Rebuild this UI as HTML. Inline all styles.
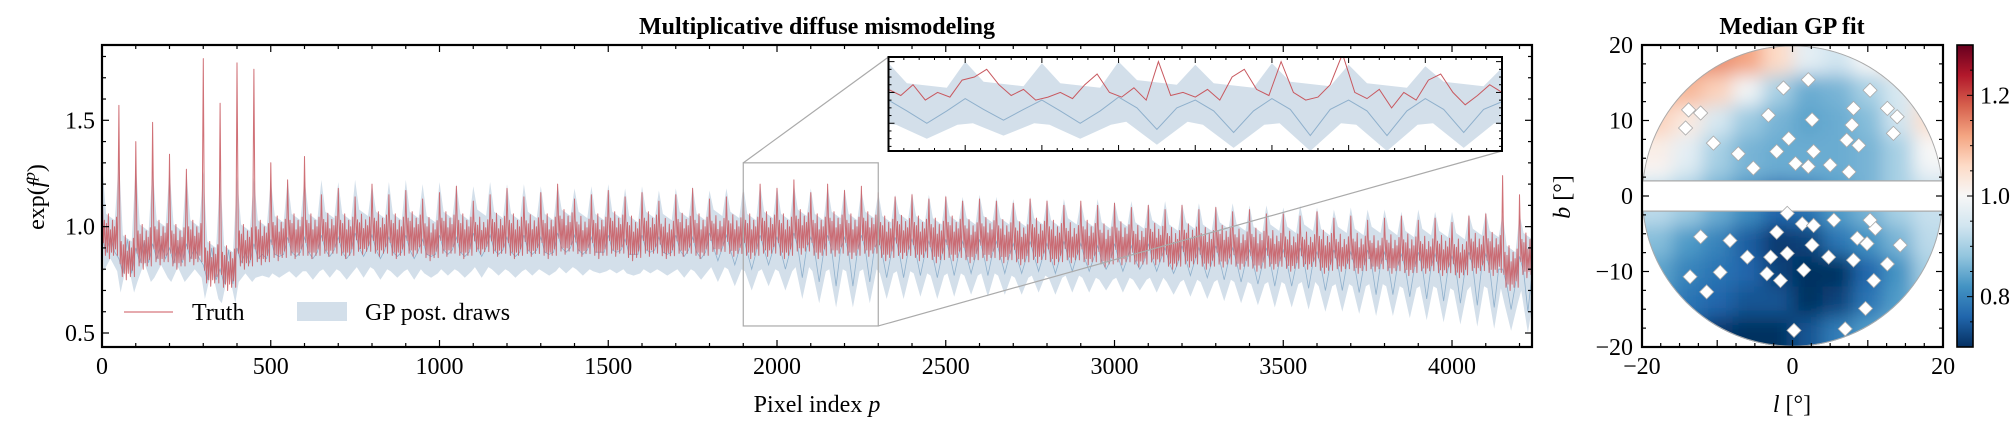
<!DOCTYPE html>
<html><head><meta charset="utf-8">
<style>
html,body{margin:0;padding:0;background:#fff;}
svg{display:block;font-family:"Liberation Serif","DejaVu Serif",serif;}
</style></head>
<body>
<svg id="fig" width="2016" height="424" viewBox="0 0 2016 424" xmlns="http://www.w3.org/2000/svg">
<defs>
  <clipPath id="mainClip"><rect x="102" y="45" width="1430" height="302"/></clipPath>
  <clipPath id="insetClip"><rect x="888.5" y="57" width="613.5" height="94"/></clipPath>
  <clipPath id="circClip"><circle cx="1792.5" cy="196" r="150.6"/></clipPath>
  <clipPath id="bandClip"><rect x="1640" y="40" width="310" height="141"/><rect x="1640" y="211" width="310" height="140"/></clipPath>
  <filter id="blur" x="-20%" y="-20%" width="140%" height="140%"><feGaussianBlur stdDeviation="9"/></filter>
  <linearGradient id="cbar" x1="0" y1="1" x2="0" y2="0">
    <stop offset="0" stop-color="#053061"/><stop offset="0.1" stop-color="#2166ac"/>
    <stop offset="0.2" stop-color="#4393c3"/><stop offset="0.3" stop-color="#92c5de"/>
    <stop offset="0.4" stop-color="#d1e5f0"/><stop offset="0.5" stop-color="#f7f7f7"/>
    <stop offset="0.6" stop-color="#fddbc7"/><stop offset="0.7" stop-color="#f4a582"/>
    <stop offset="0.8" stop-color="#d6604d"/><stop offset="0.9" stop-color="#b2182b"/>
    <stop offset="1" stop-color="#67001f"/>
  </linearGradient>
</defs>
<text x="817" y="34" font-size="24" font-weight="bold" text-anchor="middle">Multiplicative diffuse mismodeling</text>
<text x="1792" y="34" font-size="24" font-weight="bold" text-anchor="middle">Median GP fit</text>
<text x="817" y="412" font-size="24" text-anchor="middle">Pixel index <tspan font-style="italic">p</tspan></text>
<text transform="translate(44,197) rotate(-90)" font-size="24" text-anchor="middle">exp(<tspan font-style="italic">f</tspan><tspan font-style="italic" font-size="17" dy="-9">p</tspan><tspan dy="9">)</tspan></text>
<text x="1792" y="412" font-size="24" text-anchor="middle"><tspan font-style="italic">l</tspan> [°]</text>
<text transform="translate(1570,197) rotate(-90)" font-size="24" text-anchor="middle"><tspan font-style="italic">b</tspan> [°]</text>
<g id="main"></g>
<g id="map"></g>
</svg>
<script>
// ---- main series data (one value per 50-pixel period, p = 0,50,...,4200) ----
const truthPeak = [1.2,1.57,1.4,1.49,1.34,1.27,1.79,1.58,1.77,1.74,1.3,1.22,1.33,
 1.15,1.18,1.14,1.2,1.15,1.17,1.13,1.16,1.19,1.12,1.15,1.18,1.14,1.16,1.2,1.13,1.15,1.17,1.14,1.16,1.12,1.15,1.18,1.13,1.14,1.16,
 1.2,1.18,1.22,1.16,1.2,1.17,1.19,
 1.16,1.14,1.15,1.13,1.14,1.12,1.13,1.12,1.11,1.13,1.12,1.1,1.12,1.1,1.11,1.09,1.1,1.08,1.1,1.08,1.09,1.07,1.08,1.06,
 1.06,1.05,1.07,1.04,1.05,1.03,1.04,1.05,1.03,1.04,1.02,1.05,1.06,1.24,1.15];
const truthTrough = [0.85,0.75,0.8,0.82,0.8,0.82,0.72,0.7,0.8,0.82,0.84,0.85,0.85,
 0.86,0.85,0.87,0.86,0.85,0.86,0.84,0.86,0.85,0.87,0.86,0.85,0.86,0.85,0.87,0.86,0.85,0.86,0.84,0.86,0.85,0.86,0.85,0.87,0.86,0.85,
 0.86,0.85,0.87,0.85,0.86,0.85,0.86,
 0.84,0.85,0.84,0.83,0.84,0.83,0.84,0.83,0.82,0.83,0.82,0.83,0.82,0.81,0.82,0.81,0.82,0.8,0.81,0.8,0.81,0.8,0.79,0.8,
 0.79,0.8,0.78,0.79,0.78,0.79,0.78,0.77,0.78,0.77,0.76,0.78,0.77,0.7,0.76];
const bandTop = [1.3,1.32,1.3,1.28,1.27,1.26,1.26,1.25,1.24,1.23,1.22,1.22,1.23,
 1.22,1.21,1.22,1.2,1.21,1.22,1.2,1.21,1.2,1.19,1.21,1.2,1.2,1.19,1.2,1.18,1.19,1.2,1.18,1.19,1.17,1.18,1.19,1.17,1.18,1.19,
 1.2,1.19,1.2,1.18,1.19,1.18,1.17,
 1.16,1.15,1.16,1.15,1.15,1.14,1.15,1.14,1.13,1.14,1.13,1.13,1.12,1.13,1.12,1.12,1.11,1.12,1.11,1.11,1.1,1.11,1.1,1.1,
 1.09,1.1,1.09,1.08,1.09,1.08,1.08,1.07,1.08,1.07,1.07,1.06,1.07,1.06,1.06];
const bandBottom = [0.85,0.84,0.83,0.82,0.81,0.8,0.8,0.79,0.78,0.77,0.76,0.76,0.75,
 0.76,0.75,0.76,0.75,0.76,0.75,0.76,0.77,0.76,0.76,0.77,0.76,0.77,0.77,0.78,0.77,0.78,0.78,0.77,0.78,0.77,0.76,0.75,0.74,0.72,0.7,
 0.72,0.7,0.66,0.64,0.62,0.62,0.64,
 0.66,0.66,0.67,0.66,0.67,0.68,0.67,0.68,0.68,0.69,0.68,0.69,0.69,0.7,0.69,0.7,0.69,0.68,0.67,0.66,0.65,0.64,0.63,0.62,
 0.62,0.61,0.6,0.6,0.59,0.58,0.58,0.57,0.56,0.55,0.54,0.53,0.52,0.51,0.5];
// ---- inset truth (p = 1900..2300 step 8) ----
const insetTruth = [1.02,0.98,1.05,0.95,1.0,0.97,1.08,1.1,1.15,1.05,
 0.98,1.02,0.95,0.97,1.0,0.96,1.05,1.12,1.0,0.97,
 1.03,0.95,1.2,0.98,1.0,0.97,1.02,0.95,1.1,1.15,
 1.02,0.98,1.2,1.0,0.95,0.97,1.05,1.25,1.0,0.96,
 1.02,0.9,1.0,0.95,1.08,1.12,1.0,0.92,0.98,1.05,1.0];
const xTicks = [0,500,1000,1500,2000,2500,3000,3500,4000];
const yTicks = [0.5,1.0,1.5];
const yTickLabels = ["0.5","1.0","1.5"];
// ---- map data: 4° cells, rows b=18..-18, cols l=-18..18 ----
const mapVals = [
 [1.14,1.14,1.14,1.12,1.06,0.97,0.94,1.0,1.04,1.03],
 [1.1,1.1,1.07,0.99,0.9,0.85,0.86,0.9,0.95,1.03],
 [1.07,1.03,0.95,0.89,0.86,0.84,0.85,0.87,0.94,1.05],
 [1.02,0.97,0.9,0.86,0.85,0.85,0.85,0.86,0.9,1.0],
 [1.0,0.95,0.89,0.86,0.85,0.85,0.85,0.86,0.9,0.98],
 [0.92,0.89,0.85,0.81,0.76,0.78,0.83,0.86,0.9,0.93],
 [0.87,0.83,0.8,0.75,0.71,0.72,0.78,0.82,0.86,0.92],
 [0.84,0.8,0.78,0.76,0.72,0.7,0.7,0.76,0.82,0.9],
 [0.83,0.78,0.76,0.74,0.74,0.7,0.72,0.78,0.83,0.88],
 [0.79,0.75,0.71,0.7,0.7,0.74,0.79,0.83,0.86,0.88]];
const maskL = [2.1,-1.2,-3.2,2.6,8.1,12.6,13.9,7.9,-0.5,13.4,-13.8,-12.2,-14.2,-10.5,-7.2,-2.1,2.8,5.0,7.2,8.8,10.3,7.5,2.1,-5.2,0.4,
 -12.2,-8.3,-11.4,-9.6,-13.6,-6.0,-2.9,-0.7,1.5,2.6,4.8,8.1,8.6,11.0,9.9,12.6,14.3,10.8,9.7,0.2,7.0,1.3,2.8,5.5,-0.7,-2.1,10.3,-3.4,-1.6];
const maskB = [15.4,14.3,10.7,10.1,11.6,11.6,10.5,9.4,7.6,8.3,11.4,11.0,9.0,7.0,5.6,5.9,5.9,4.1,7.4,6.7,14.0,3.2,3.9,3.7,4.3,
 -5.4,-5.9,-12.7,-10.1,-10.7,-8.1,-8.1,-7.6,-9.8,-6.5,-8.1,-8.5,-5.6,-4.3,-6.3,-9.0,-6.5,-11.2,-14.9,-17.8,-17.6,-3.7,-3.9,-3.2,-2.3,-4.8,-3.2,-10.3,-11.2];
const cbTicks = [0.8,1.0,1.2];

const NS = "http://www.w3.org/2000/svg";
function mk(tag, attrs, parent){const e=document.createElementNS(NS,tag);for(const k in attrs)e.setAttribute(k,attrs[k]);parent.appendChild(e);return e;}

const main = document.getElementById('main');
const X = p => 102 + p*(1430/4237);
const Y = v => 333 - (v-0.5)*212.7;
const IX = p => 888.5 + (p-1900)*(613.5/400);
const IY = v => 151 - (v-0.62)*(94/0.61);

function bandPath(xs, ys, i0, i1){
  let top=[], bot=[];
  for(let i=i0;i<=i1;i++){
    const p=i*50;
    top.push([xs(p), ys(bandTop[i])], [xs(p+12), ys(truthTrough[i]+0.21)], [xs(p+38), ys(truthTrough[i]+0.18)]);
    bot.push([xs(p+5), ys(truthTrough[i]-0.06)], [xs(p+25), ys(bandBottom[i])], [xs(p+45), ys(truthTrough[i]-0.06)]);
  }
  bot.reverse();
  return 'M'+top.concat(bot).map(q=>q[0].toFixed(1)+','+q[1].toFixed(1)).join('L')+'Z';
}
function medianPath(xs, ys, i0, i1){
  let pts=[];
  for(let i=i0;i<=i1;i++){
    const p=i*50;
    pts.push([xs(p), ys(truthTrough[i]+0.1)], [xs(p+12), ys(truthTrough[i]+0.03)], [xs(p+25), ys(bandBottom[i]+0.1)], [xs(p+38), ys(truthTrough[i]+0.03)]);
  }
  return 'M'+pts.map(q=>q[0].toFixed(1)+','+q[1].toFixed(1)).join('L');
}
// style: relative position of sub-vertices inside one period
const wig = [[0,1],[4,0.25],[7,0.6],[10,0.05],[13,0.55],[16,0.1],[19,0.7],[22,0],[25,0.45],[28,0.1],[31,0.6],[34,0.05],[37,0.5],[40,0.15],[43,0.65],[46,0.05]];
function truthPath(xs, ys){
  let pts=[];
  for(let i=0;i<truthPeak.length;i++){
    const p=i*50, pk=truthPeak[i], tr=truthTrough[i], hi=Math.min(pk,tr+0.3);
    wig.forEach((w,k)=>{
      const v = k===0 ? pk : tr + (hi-tr)*w[1];
      pts.push([xs(p+w[0]), ys(v)]);
    });
  }
  return 'M'+pts.map(q=>q[0].toFixed(1)+','+q[1].toFixed(1)).join('L');
}

// main plot marks
const mg = mk('g',{'clip-path':'url(#mainClip)'},main);
const band = mk('path',{d:bandPath(X,Y,0,truthPeak.length-1),fill:'#d3dfea',stroke:'none'},mg);


const med = mk('path',{d:medianPath(X,Y,0,truthPeak.length-1),fill:'none',stroke:'#8fb0cc','stroke-width':0.8},mg);


const tr = mk('path',{d:truthPath(X,Y),fill:'none',stroke:'#c8585f','stroke-width':1.0,'stroke-linejoin':'round','stroke-opacity':0.85},mg);



// zoom rectangle + connectors
const zr = mk('rect',{x:X(1900),y:Y(1.3),width:X(2300)-X(1900),height:Y(0.533)-Y(1.3),fill:'none',stroke:'#aaa','stroke-width':1.2},main);


const c1 = mk('line',{x1:X(1900),y1:Y(1.3),x2:888.5,y2:57,stroke:'#aaa','stroke-width':1.2},main);


const c2 = mk('line',{x1:X(2300),y1:Y(0.533),x2:1502,y2:151,stroke:'#aaa','stroke-width':1.2},main);



// inset
const ins = mk('g',{},main);


mk('rect',{x:888.5,y:57,width:613.5,height:94,fill:'#fff'},ins);
const ig = mk('g',{'clip-path':'url(#insetClip)'},ins);
const ib = mk('path',{d:bandPath(IX,IY,37,47),fill:'#d3dfea'},ig);


const im = mk('path',{d:medianPath(IX,IY,37,47),fill:'none',stroke:'#8fb0cc','stroke-width':1},ig);


const it = mk('path',{d:'M'+insetTruth.map((v,k)=>IX(1900+k*8).toFixed(1)+','+IY(v).toFixed(1)).join('L'),fill:'none',stroke:'#c8585f','stroke-width':1},ig);


for(let p=1900;p<=2300;p+=10){
  const L = (p%50===0)?6:3;
  mk('line',{x1:IX(p),y1:151,x2:IX(p),y2:151-L,stroke:'#000','stroke-width':1},ins);
  mk('line',{x1:IX(p),y1:57,x2:IX(p),y2:57+L,stroke:'#000','stroke-width':1},ins);
}
for(let v=0.65;v<=1.2301;v+=0.05){
  const L = (Math.abs(v*10-Math.round(v*10))<0.01 && Math.round(v*10)%2===0)?6:3;
  mk('line',{x1:888.5,y1:IY(v),x2:888.5+L,y2:IY(v),stroke:'#000','stroke-width':1},ins);
  mk('line',{x1:1502,y1:IY(v),x2:1502-L,y2:IY(v),stroke:'#000','stroke-width':1},ins);
}
const ifr = mk('rect',{x:888.5,y:57,width:613.5,height:94,fill:'none',stroke:'#000','stroke-width':2},ins);



// main axes ticks
for(let p=0;p<=4237;p+=100){
  const L=(p%500===0)?7:4;
  mk('line',{x1:X(p),y1:347,x2:X(p),y2:347-L,stroke:'#000','stroke-width':1.2},main);
  mk('line',{x1:X(p),y1:45,x2:X(p),y2:45+L,stroke:'#000','stroke-width':1.2},main);
}
xTicks.forEach(p=>{
  const t=mk('text',{x:X(p),y:374,'font-size':24,'text-anchor':'middle'},main);
  t.textContent=p;
  
  
});
for(let k=5;k<=18;k++){
  const v=k/10, L=(k%5===0)?7:4;
  mk('line',{x1:102,y1:Y(v),x2:102+L,y2:Y(v),stroke:'#000','stroke-width':1.2},main);
  mk('line',{x1:1532,y1:Y(v),x2:1532-L,y2:Y(v),stroke:'#000','stroke-width':1.2},main);
}
yTicks.forEach((v,k)=>{
  const t=mk('text',{x:95,y:Y(v)+8,'font-size':24,'text-anchor':'end'},main);
  t.textContent=yTickLabels[k];
  
  
});
const fr = mk('rect',{x:102,y:45,width:1430,height:302,fill:'none',stroke:'#000','stroke-width':2.2},main);



// legend
const lg = mk('g',{},main);


const le1 = mk('line',{x1:124,y1:312,x2:173,y2:312,stroke:'#d6787d','stroke-width':1.2},lg);


const lt1 = mk('text',{x:192,y:320,'font-size':24},lg); lt1.textContent='Truth';


const le2 = mk('rect',{x:297,y:302,width:50,height:19,fill:'#d3dfea'},lg);


const lt2 = mk('text',{x:365,y:320,'font-size':24},lg); lt2.textContent='GP post. draws';



// ---- map ----
const map = document.getElementById('map');
const ML = l => 1792.5 + l*7.53;
const MB = b => 196 - b*7.55;
const stops=[[0,[5,48,97]],[0.1,[33,102,172]],[0.2,[67,147,195]],[0.3,[146,197,222]],[0.4,[209,229,240]],[0.5,[247,247,247]],[0.6,[253,219,199]],[0.7,[244,165,130]],[0.8,[214,96,77]],[0.9,[178,24,43]],[1,[103,0,31]]];
function cmap(v){
  let t=Math.max(0,Math.min(1,(v-0.7)/0.6));
  for(let k=1;k<stops.length;k++){ if(t<=stops[k][0]){const a=stops[k-1],b=stops[k],f=(t-a[0])/(b[0]-a[0]);
    return 'rgb('+a[1].map((c,j)=>Math.round(c+(b[1][j]-c)*f)).join(',')+')';}}
  return 'rgb(103,0,31)';
}
const mo = mk('g',{'clip-path':'url(#circClip)'},map);
const mb = mk('g',{'clip-path':'url(#bandClip)'},mo);
const hm = mk('g',{filter:'url(#blur)'},mb);


mapVals.forEach((row,r)=>row.forEach((v,c)=>{
  let l0=-20+c*4, l1=l0+4, b1=20-r*4, b0=b1-4;
  if(c===0) l0-=8; if(c===9) l1+=8; if(r===0) b1+=8; if(r===9) b0-=8;
  if(r===4) b0-=2; if(r===5) b1+=2;
  const cell=mk('rect',{x:ML(l0),y:MB(b1),width:ML(l1)-ML(l0)+0.5,height:MB(b0)-MB(b1)+0.5,fill:cmap(v)},hm);
  
  
}));
mk('circle',{cx:1792.5,cy:196,r:150.2,fill:'none',stroke:'#aaa','stroke-width':1.2},mb);
mk('line',{x1:1640,y1:MB(2),x2:1950,y2:MB(2),stroke:'#aaa','stroke-width':1.2},mo);
mk('line',{x1:1640,y1:MB(-2),x2:1950,y2:MB(-2),stroke:'#aaa','stroke-width':1.2},mo);
mk('rect',{x:1640,y:MB(2)+0.6,width:310,height:MB(-2)-MB(2)-1.2,fill:'#fff'},mo);
maskL.forEach((l,k)=>{
  const m=mk('rect',{x:ML(l)-5,y:MB(maskB[k])-5,width:10,height:10,fill:'#fff',stroke:'#aaa','stroke-width':0.8,transform:'rotate(45 '+ML(l)+' '+MB(maskB[k])+')'},mo);
  
  
});
// map ticks
for(let l=-20;l<=20;l+=2.5){
  const L=(l%10===0)?7:4;
  mk('line',{x1:ML(l),y1:347,x2:ML(l),y2:347-L,stroke:'#000','stroke-width':1.2},map);
  mk('line',{x1:ML(l),y1:45,x2:ML(l),y2:45+L,stroke:'#000','stroke-width':1.2},map);
}
for(let b=-20;b<=20;b+=2.5){
  const L=(b%10===0)?7:4;
  mk('line',{x1:1642,y1:MB(b),x2:1642+L,y2:MB(b),stroke:'#000','stroke-width':1.2},map);
  mk('line',{x1:1943,y1:MB(b),x2:1943-L,y2:MB(b),stroke:'#000','stroke-width':1.2},map);
}
[-20,0,20].forEach(l=>{
  const t=mk('text',{x:ML(l),y:374,'font-size':24,'text-anchor':'middle'},map);
  t.textContent=(l<0?'−':'')+Math.abs(l);
  
  
});
[20,10,0,-10,-20].forEach(b=>{
  const t=mk('text',{x:1633,y:MB(b)+8,'font-size':24,'text-anchor':'end'},map);
  t.textContent=(b<0?'−':'')+Math.abs(b);
  
  
});
const mf = mk('rect',{x:1642,y:45,width:301,height:302,fill:'none',stroke:'#000','stroke-width':2.2},map);


// colorbar
const CB = v => 347 - (v-0.7)*(302/0.6);
const cb = mk('rect',{x:1957,y:45,width:16,height:302,fill:'url(#cbar)',stroke:'#000','stroke-width':1.6},map);


for(let k=15;k<=26;k++){
  const v=k/20, major=(k%4===0);
  mk('line',{x1:1973,y1:CB(v),x2:1973-(major?6:3),y2:CB(v),stroke:'#000','stroke-width':1},map);
}
cbTicks.forEach(v=>{
  const t=mk('text',{x:1980,y:CB(v)+8,'font-size':24},map);
  t.textContent=v.toFixed(1);
  
  
});
</script>
</body></html>
